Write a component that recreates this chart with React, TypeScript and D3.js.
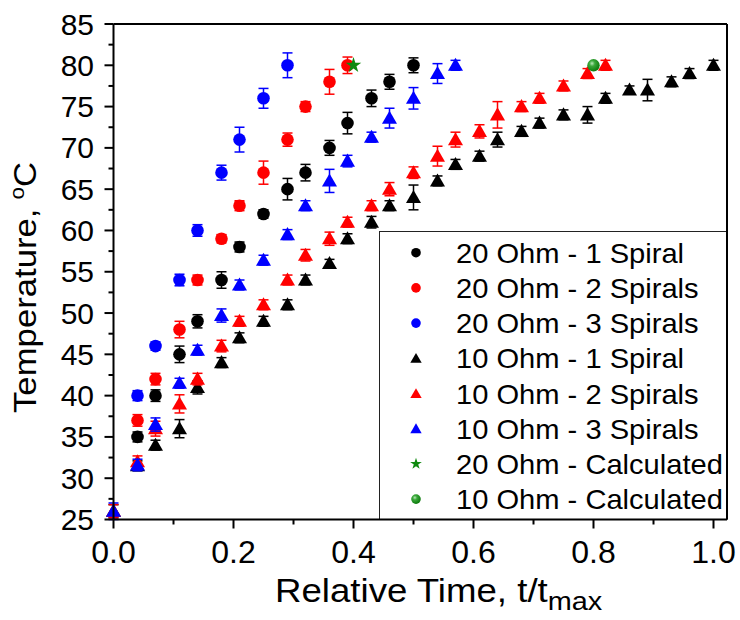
import React from 'react';
import * as d3 from 'd3';

// values (t/tmax, temperature in °C, error ±°C)
const circ1T = [0.04, 0.07, 0.11, 0.14, 0.18, 0.21, 0.25, 0.29, 0.32, 0.36, 0.39, 0.43, 0.46, 0.5];
const circ1V = [35, 40, 45, 49, 54, 58, 62, 65, 67, 70, 73, 76, 78, 80];
const circ1E = [0.6, 0.7, 1.0, 0.8, 1.0, 0.6, 0.5, 1.3, 1.0, 0.9, 1.3, 1.0, 0.9, 0.9];

const circ2T = [0.04, 0.07, 0.11, 0.14, 0.18, 0.21, 0.25, 0.29, 0.32, 0.36, 0.39];
const circ2V = [37, 42, 48, 54, 59, 63, 67, 71, 75, 78, 80];
const circ2E = [0.7, 0.7, 1.0, 0.6, 0.5, 0.6, 1.4, 0.8, 0.6, 1.5, 1.0];

const circ3T = [0.04, 0.07, 0.11, 0.14, 0.18, 0.21, 0.25, 0.29];
const circ3V = [40, 46, 54, 60, 67, 71, 76, 80];
const circ3E = [0.6, 0.5, 0.7, 0.7, 0.9, 1.5, 1.2, 1.5];

const tri1T = [0, 0.04, 0.07, 0.11, 0.14, 0.18, 0.21, 0.25, 0.29, 0.32, 0.36, 0.39, 0.43, 0.46, 0.5,
  0.54, 0.57, 0.61, 0.64, 0.68, 0.71, 0.75, 0.79, 0.82, 0.86, 0.89, 0.93, 0.96, 1.0];
const tri1V = [26, 31.5, 34, 36, 41, 44, 47, 49, 51, 54, 56, 59, 61, 63, 64,
  66, 68, 69, 71, 72, 73, 74, 74, 76, 77, 77, 78, 79, 80];
const tri1E = [0.8, 0.6, 0.6, 1.1, 0.8, 0.6, 0.6, 0.6, 0.6, 0.6, 0.5, 0.6, 0.7, 0.6, 1.5,
  0.6, 0.6, 0.6, 0.9, 0.6, 0.6, 0.6, 1.0, 0.6, 0.5, 1.3, 0.6, 0.6, 0.6];

const tri2T = [0, 0.04, 0.07, 0.11, 0.14, 0.18, 0.21, 0.25, 0.29, 0.32, 0.36, 0.39, 0.43, 0.46, 0.5,
  0.54, 0.57, 0.61, 0.64, 0.68, 0.71, 0.75, 0.79, 0.82];
const tri2V = [26, 32, 36, 39, 42, 46, 49, 51, 54, 57, 59, 61, 63, 65, 67,
  69, 71, 72, 74, 75, 76, 77.5, 79, 80];
const tri2E = [0.8, 0.7, 0.9, 1.1, 0.7, 0.7, 0.6, 0.6, 0.6, 0.7, 0.8, 0.6, 0.6, 0.8, 0.7,
  1.2, 0.9, 0.8, 1.6, 0.6, 0.6, 0.6, 0.6, 0.6];

const tri3T = [0, 0.04, 0.07, 0.11, 0.14, 0.18, 0.21, 0.25, 0.29, 0.32, 0.36, 0.39, 0.43, 0.46, 0.5, 0.54, 0.57];
const tri3V = [26, 31.6, 36.5, 41.5, 45.5, 49.7, 53.4, 56.4, 59.5, 63, 66, 68.4, 71.3, 73.6, 76, 79, 80];
const tri3E = [1.0, 0.7, 0.8, 0.6, 0.6, 0.8, 0.6, 0.6, 0.6, 0.6, 1.4, 0.7, 0.6, 1.2, 1.3, 1.2, 0.6];

const calc20T = [0.4];
const calc20V = [80];
const calc10T = [0.8];
const calc10V = [80];

const legendLabels = [
  '20 Ohm - 1 Spiral', '20 Ohm - 2 Spirals', '20 Ohm - 3 Spirals',
  '10 Ohm - 1 Spiral', '10 Ohm - 2 Spirals', '10 Ohm - 3 Spirals',
  '20 Ohm - Calculated', '10 Ohm - Calculated',
];
const yTicks = [25, 30, 35, 40, 45, 50, 55, 60, 65, 70, 75, 80, 85];
const xTicks = [0, 0.2, 0.4, 0.6, 0.8, 1.0];

const FONT = '"Liberation Sans", Arial, sans-serif';
const GREEN = '#0f8a0f';

type Shape = 'circle' | 'tri' | 'star' | 'ball';

const series: { t: number[]; v: number[]; e?: number[]; color: string; shape: Shape }[] = [
  { t: circ1T, v: circ1V, e: circ1E, color: '#000000', shape: 'circle' },
  { t: circ2T, v: circ2V, e: circ2E, color: '#ff0000', shape: 'circle' },
  { t: circ3T, v: circ3V, e: circ3E, color: '#0000ff', shape: 'circle' },
  { t: tri1T, v: tri1V, e: tri1E, color: '#000000', shape: 'tri' },
  { t: tri2T, v: tri2V, e: tri2E, color: '#ff0000', shape: 'tri' },
  { t: tri3T, v: tri3V, e: tri3E, color: '#0000ff', shape: 'tri' },
  { t: calc20T, v: calc20V, color: GREEN, shape: 'star' },
  { t: calc10T, v: calc10V, color: GREEN, shape: 'ball' },
];

const Marker = ({ shape, color, cx, cy, big }: { shape: Shape; color: string; cx: number; cy: number; big: boolean }) => {
  if (shape === 'circle') return <circle cx={cx} cy={cy} r={big ? 6.3 : 4.8} fill={color} />;
  if (shape === 'ball') return <circle cx={cx} cy={cy} r={big ? 6.2 : 4.8} fill="url(#ball)" />;
  const type = shape === 'tri' ? d3.symbolTriangle : d3.symbolStar;
  const size = shape === 'tri' ? (big ? 98 : 56) : big ? 75 : 42;
  const dy = shape === 'tri' ? 1.2 : 0;
  return <path d={d3.symbol(type, size)() || ''} transform={`translate(${cx},${cy + dy})`} fill={color} />;
};

export default function App() {
  const x = d3.scaleLinear().domain([0, 1.0225]).range([113.5, 727]);
  const y = d3.scaleLinear().domain([25, 85]).range([519.5, 24]);
  const [x0, x1] = x.range();
  const [y0, y1] = y.range();

  const yMinor = d3.range(27.5, 85, 5);
  const xMinor = d3.range(0.1, 1.01, 0.2);

  const legendX = 379.5;
  const legendY = 231.5;

  return (
    <svg width={740} height={620} style={{ position: 'absolute', left: 0, top: 0, background: '#fff' }} fontFamily={FONT}>
      <defs>
        <radialGradient id="ball" cx="0.38" cy="0.35" r="0.65">
          <stop offset="0" stopColor="#b8e8b8" />
          <stop offset="0.35" stopColor="#3aa83a" />
          <stop offset="1" stopColor="#0b7a0b" />
        </radialGradient>
      </defs>

      {/* data */}
      {series.map((s, si) => (
        <g key={si}>
          {s.t.map((t, i) => {
            const cx = x(t);
            const cy = y(s.v[i]);
            const e = s.e ? s.e[i] : 0;
            return (
              <g key={i}>
                {e > 0 && (
                  <g stroke={s.color} strokeWidth={1.5}>
                    <line x1={cx} x2={cx} y1={y(s.v[i] - e)} y2={y(s.v[i] + e)} />
                    <line x1={cx - 5} x2={cx + 5} y1={y(s.v[i] - e)} y2={y(s.v[i] - e)} />
                    <line x1={cx - 5} x2={cx + 5} y1={y(s.v[i] + e)} y2={y(s.v[i] + e)} />
                  </g>
                )}
                <Marker shape={s.shape} color={s.color} cx={cx} cy={cy} big />
              </g>
            );
          })}
        </g>
      ))}

      {/* legend */}
      <rect x={legendX} y={legendY} width={x1 - legendX} height={y0 - legendY} fill="#fff" stroke="#222" strokeWidth={1} />
      {legendLabels.map((lab, i) => {
        const cy = 252.7 + i * 35.2;
        return (
          <g key={lab}>
            <Marker shape={series[i].shape} color={series[i].color} cx={416} cy={cy} big={false} />
            <text transform={`translate(456,${cy}) scale(1.04,1)`} dy="0.36em" fontSize={28} fill="#000">{lab}</text>
          </g>
        );
      })}

      {/* frame */}
      <g stroke="#000" strokeWidth={2} fill="none">
        <line x1={x0} x2={x1} y1={y1} y2={y1} />
        <line x1={x1} x2={x1} y1={y1} y2={y0} />
        <line x1={x0} x2={x0} y1={y1} y2={y0} />
        <line x1={x0} x2={x1} y1={y0} y2={y0} />
      </g>

      {/* y axis */}
      <g stroke="#000" strokeWidth={2}>
        {yTicks.map(v => <line key={v} x1={x0 - 9} x2={x0} y1={y(v)} y2={y(v)} />)}
        {yMinor.map(v => <line key={v} x1={x0 - 5} x2={x0} y1={y(v)} y2={y(v)} />)}
      </g>
      {yTicks.map(v => (
        <text key={v} x={94} y={y(v)} dy="0.35em" textAnchor="end" fontSize={30}>{v}</text>
      ))}

      {/* x axis */}
      <g stroke="#000" strokeWidth={2}>
        {xTicks.map(v => <line key={v} x1={x(v)} x2={x(v)} y1={y0} y2={y0 + 9} />)}
        {xMinor.map(v => <line key={v} x1={x(v)} x2={x(v)} y1={y0} y2={y0 + 5} />)}
      </g>
      {xTicks.map(v => (
        <text key={v} x={x(v)} y={563} textAnchor="middle" fontSize={32}>{d3.format('.1f')(v)}</text>
      ))}

      {/* axis titles */}
      <text transform="translate(275,602) scale(1.11,1)" fontSize={33}>
        Relative Time, t/t
        <tspan fontSize={26} dy={8}>max</tspan>
      </text>
      <text transform="translate(36,413) rotate(-90) scale(1.12,1)" fontSize={31}>
        Temperature,
        <tspan fontSize={20} dx={8} dy={-12}>o</tspan>
        <tspan dy={12}>C</tspan>
      </text>
    </svg>
  );
}
